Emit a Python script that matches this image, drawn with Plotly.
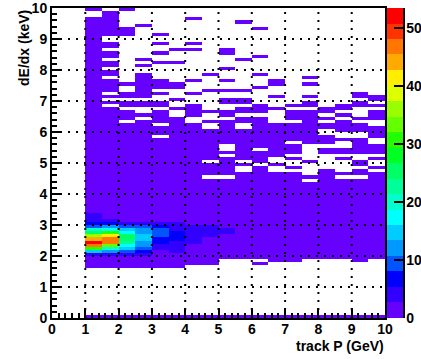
import plotly.graph_objects as go

# Bin edges of the histogram
p_edges = [i * 0.5 for i in range(21)]
dedx_edges = [i * 0.1 for i in range(101)]
p_ticks = [0, 1, 2, 3, 4, 5, 6, 7, 8, 9, 10]
dedx_ticks = [0, 1, 2, 3, 4, 5, 6, 7, 8, 9, 10]
cbar_ticks = [0, 10, 20, 30, 40, 50]

# Rows are counted from the top of the axis (row 0 = 9.9-10.0 keV).
# Empty row spans (first, last) per momentum column, from 1.0 GeV upwards.
empty_p100 = [(1, 2)]
empty_p150 = [(0, 0), (9, 10), (13, 13), (16, 16), (19, 19), (22, 22), (27, 27), (29, 29), (31, 31)]
empty_p200 = [(1, 5), (9, 23), (25, 26), (29, 29), (32, 32), (36, 36)]
empty_p250 = [(0, 4), (6, 15), (17, 17), (19, 20), (29, 29), (32, 33), (35, 35)]
empty_p300 = [(0, 7), (9, 10), (12, 13), (15, 16), (18, 22), (26, 26), (28, 29), (32, 32), (37, 37), (41, 41)]
empty_p350 = [(0, 12), (14, 16), (18, 23), (26, 28), (30, 31), (33, 34)]
empty_p400 = [(0, 2), (4, 10), (12, 12), (14, 22), (24, 26), (28, 30), (35, 36)]
empty_p450 = [(0, 20), (22, 25), (27, 32), (34, 35), (37, 38), (49, 49), (54, 54)]
empty_p500 = [(0, 12), (15, 18), (20, 22), (24, 25), (27, 28), (31, 32), (35, 35), (44, 45), (47, 47), (54, 54)]
empty_p550 = [(0, 3), (5, 15), (17, 25), (27, 28), (31, 31), (34, 34), (37, 38), (49, 49), (51, 52)]
empty_p600 = [(0, 5), (7, 14), (16, 20), (22, 24), (26, 30), (34, 34), (45, 45), (50, 50), (81, 81)]
empty_p650 = [(0, 22), (25, 27), (29, 31), (33, 36), (48, 49), (51, 52)]
empty_p700 = [(0, 30), (32, 32), (36, 36), (43, 43), (47, 47), (49, 50), (52, 52)]
empty_p750 = [(0, 21), (23, 23), (25, 27), (29, 29), (32, 32), (44, 48), (50, 53), (55, 55)]
empty_p800 = [(0, 31), (34, 34), (36, 36), (39, 40), (44, 44), (47, 51)]
empty_p850 = [(0, 30), (33, 33), (35, 35), (40, 41), (43, 44), (47, 47), (49, 52), (54, 54)]
empty_p900 = [(0, 26), (29, 29), (32, 34), (36, 36), (40, 41), (47, 48), (51, 51), (54, 54)]
empty_p950 = [(0, 27), (30, 30), (32, 32), (36, 37), (42, 43), (47, 47), (49, 50), (52, 52)]

# Last filled row of the main band per column; row 99 is filled as well
last_row = [83, 83, 83, 83, 83, 83, 82, 82, 80, 80, 82, 81, 81, 80, 80, 80, 81, 80]

# Counts of the dE/dx peak, rows 66 to 79 (3.3 keV down to 2.0 keV)
peak_first_row = 66
peak_p100 = [4, 4, 4, 7, 9, 20, 25, 36, 44, 53, 47, 31, 15, 4]
peak_p150 = [1, 1, 4, 7, 12, 17, 31, 41, 47, 47, 33, 20, 12, 4]
peak_p200 = [1, 1, 1, 4, 9, 15, 17, 25, 25, 23, 17, 15, 9, 4]
peak_p250 = [1, 1, 1, 4, 9, 12, 12, 15, 15, 12, 12, 9, 7, 4]
peak_p300 = [1, 1, 1, 4, 7, 9, 9, 9, 7, 7, 4, 4, 1, 1]
peak_p350 = [1, 1, 1, 4, 4, 4, 7, 7, 7, 4, 4, 4, 4, 1]
peak_p400 = [1, 1, 1, 1, 4, 4, 4, 4, 4, 4, 1, 1, 1, 1]
peak_p450 = [1, 1, 1, 1, 4, 4, 4, 4, 1, 1, 1, 1, 1, 1]
peak_p500 = [1, 1, 1, 1, 1, 4, 4, 1, 1, 1, 1, 1, 1, 1]

background_count = 1
zmax = 53.4

# Palette bands from low to high
band_colors = ["#6600ff", "#3300ff", "#0000ff", "#0055ff", "#0099ff", "#00ccff", "#00ffff",
               "#00ffcc", "#00ff99", "#00ff66", "#00ff22", "#22ff00", "#66ff00", "#99ff00",
               "#ddff00", "#ffee00", "#ffaa00", "#ff7700", "#ff3300", "#ff0000"]

all_empty = [empty_p100, empty_p150, empty_p200, empty_p250, empty_p300, empty_p350,
             empty_p400, empty_p450, empty_p500, empty_p550, empty_p600, empty_p650,
             empty_p700, empty_p750, empty_p800, empty_p850, empty_p900, empty_p950]
all_peak = [peak_p100, peak_p150, peak_p200, peak_p250, peak_p300, peak_p350,
            peak_p400, peak_p450, peak_p500]

n_rows = len(dedx_edges) - 1
n_cols = len(p_edges) - 1
first_col = 2
z = [[None] * n_cols for _ in range(n_rows)]
for c, spans in enumerate(all_empty):
    col = c + first_col
    for k in list(range(0, last_row[c] + 1)) + [99]:
        z[99 - k][col] = background_count
    for a, b in spans:
        for k in range(a, b + 1):
            z[99 - k][col] = None
for c, vals in enumerate(all_peak):
    for i, v in enumerate(vals):
        z[99 - (peak_first_row + i)][c + first_col] = v

n = len(band_colors)
colorscale = []
for i, col in enumerate(band_colors):
    colorscale.append([i / n, col])
    colorscale.append([(i + 1) / n, col])

tick_font = dict(family="Liberation Sans", size=14, color="black", weight="bold")

# Layout: the canvas is a little wider than the window so the palette labels need no extra margin
W, H = 445, 359
M_L, M_B = 52, 41
PAPER_W, PAPER_H = W - M_L, H - M_B
FRAME_RIGHT, FRAME_TOP = 385, 8
x_dom_end = (FRAME_RIGHT - M_L) / PAPER_W
y_dom_end = (H - M_B - FRAME_TOP) / PAPER_H

fig = go.Figure(go.Heatmap(
    x=p_edges, y=dedx_edges, z=z, zmin=0, zmax=zmax, colorscale=colorscale,
    hoverongaps=False, zsmooth=False,
    colorbar=dict(
        thickness=16, thicknessmode="pixels", len=y_dom_end, lenmode="fraction",
        x=(387 - M_L) / PAPER_W, xanchor="left", y=0, yanchor="bottom", xpad=0, ypad=0,
        outlinewidth=0, ticks="inside", ticklen=9, tickwidth=2, tickcolor="black",
        tickvals=cbar_ticks, tickfont=tick_font,
    ),
))

axis_common = dict(
    range=[0, 10], tickmode="array", ticks="inside", ticklen=10, tickwidth=2, tickcolor="black",
    showgrid=False, zeroline=False, showline=True, linewidth=2, linecolor="black", mirror=True,
    tickfont=tick_font, layer="above traces", ticklabeloverflow="allow", automargin=False,
    minor=dict(ticks="inside", dtick=0.2, ticklen=5, tickwidth=2, tickcolor="black", showgrid=False),
)

shapes = []
for t in p_ticks[1:-1]:
    shapes.append(dict(type="line", xref="x", yref="y domain", x0=t, x1=t, y0=0, y1=1, layer="above",
                       line=dict(color="black", width=2, dash="2px,6px")))
for t in dedx_ticks[1:-1]:
    shapes.append(dict(type="line", xref="x domain", yref="y", x0=0, x1=1, y0=t, y1=t, layer="above",
                       line=dict(color="black", width=2, dash="2px,6px")))
# right edge of the palette axis
shapes.append(dict(type="line", xref="paper", yref="y domain",
                   x0=(404 - M_L) / PAPER_W, x1=(404 - M_L) / PAPER_W, y0=0, y1=1,
                   line=dict(color="black", width=2)))

fig.update_layout(
    width=W, height=H, autosize=False,
    margin=dict(l=M_L, r=0, t=0, b=M_B, pad=0),
    paper_bgcolor="white", plot_bgcolor="white",
    xaxis=dict(tickvals=p_ticks, domain=[0, x_dom_end], ticklabelstandoff=-3, **axis_common),
    yaxis=dict(tickvals=dedx_ticks, domain=[0, y_dom_end], **axis_common),
    shapes=shapes,
    annotations=[
        dict(text="<b>track P (GeV)</b>", xref="paper", yref="paper", x=x_dom_end, y=-28 / PAPER_H,
             xanchor="right", yanchor="middle", showarrow=False, xshift=1,
             font=dict(family="Liberation Sans", size=14, color="black")),
        dict(text="<b>dE/dx (keV)</b>", xref="paper", yref="paper", x=-28 / PAPER_W, y=y_dom_end,
             xanchor="center", yanchor="top", textangle=-90, showarrow=False,
             font=dict(family="Liberation Sans", size=14, color="black")),
    ],
)

fig.write_html("out.html", config={"displayModeBar": False},
               post_script="document.body.style.margin='0';document.documentElement.style.overflow='hidden';document.body.style.overflow='hidden';")
